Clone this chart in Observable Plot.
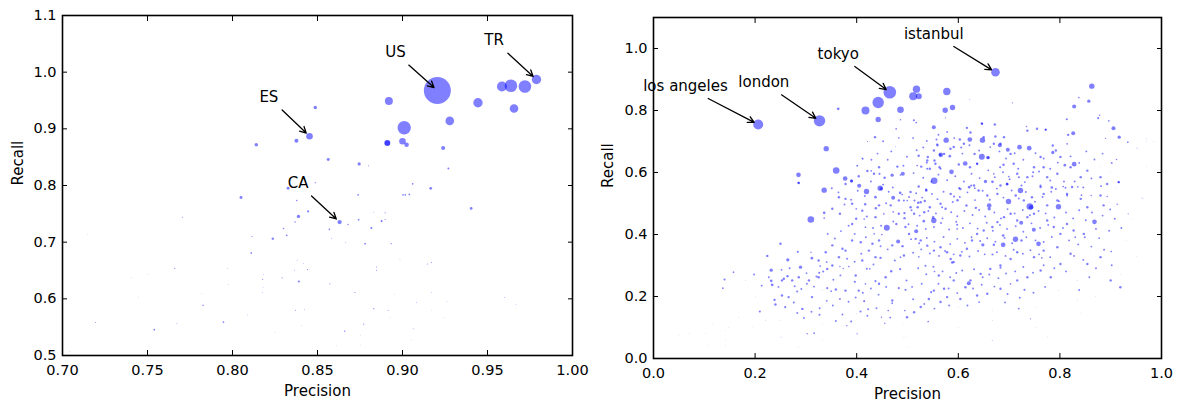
<!DOCTYPE html>
<html><head><meta charset="utf-8">
<script src="https://cdn.jsdelivr.net/npm/d3@7"></script>
<script src="https://cdn.jsdelivr.net/npm/@observablehq/plot@0.6"></script>
<style>
body{margin:0;background:#fff;}
#wrap{display:flex;width:1179px;height:406px;overflow:hidden;}
</style></head><body><div id="wrap"></div>
<script>
// ---- Left chart: countries [precision, recall, count]
const countryPts = [
[0.9205,0.9676,1000],[0.9788,0.987,121],[0.9585,0.9747,137],[0.9638,0.976,218],[0.972,0.9747,218],
[0.9656,0.936,101],[0.9444,0.946,121],[0.892,0.949,88],[0.9278,0.914,101],[0.901,0.902,246],
[0.891,0.875,49],[0.8912,0.875,40],[0.900,0.878,60],[0.9024,0.872,29],[0.9239,0.866,22],
[0.927,0.83,5.5],[0.8487,0.9376,16],[0.8453,0.887,60],[0.8376,0.879,22],[0.814,0.872,16],
[0.8563,0.846,12],[0.8745,0.838,14],[0.880,0.835,1.5],[0.906,0.803,4],[0.9166,0.795,10],
[0.8487,0.805,2],[0.8327,0.795,12],[0.805,0.779,12],[0.9003,0.7836,4],[0.9017,0.7836,4],
[0.904,0.7842,4],[0.8739,0.7836,4],[0.8378,0.7736,3],[0.9404,0.7595,10],[0.7705,0.744,1.5],
[0.8388,0.7455,16],[0.8445,0.7543,6],[0.863,0.7355,25],[0.868,0.731,3],[0.8742,0.7396,4],
[0.8877,0.7372,6],[0.8898,0.7519,2],[0.8898,0.740,2],[0.8831,0.753,1],[0.8368,0.7355,3],
[0.830,0.7243,3],[0.8319,0.712,4],[0.8237,0.7062,8],[0.857,0.7226,4],[0.8583,0.707,1],
[0.8817,0.725,6],[0.8114,0.710,2],[0.8666,0.699,1],[0.878,0.6974,4],[0.8934,0.6974,2],
[0.811,0.681,4],[0.838,0.668,1],[0.8418,0.662,1],[0.8441,0.6516,2],[0.8365,0.6505,1],
[0.766,0.6534,2],[0.797,0.6534,1],[0.8292,0.637,2],[0.8177,0.634,1.5],[0.8183,0.6428,1],
[0.839,0.6305,6],[0.8573,0.6264,1.5],[0.818,0.6205,0.7],[0.8177,0.611,1],[0.7975,0.625,0.8],
[0.872,0.611,1.5],[0.8985,0.670,0.8],[0.9146,0.6616,1.5],[0.917,0.664,1.5],[0.8847,0.6563,1.5],
[0.8847,0.6505,1.5],[0.917,0.611,1],[0.9081,0.5935,1],[0.9262,0.595,0.7],[0.8951,0.608,0.5],
[0.8831,0.5826,2],[0.8916,0.580,1.5],[0.837,0.580,1.5],[0.8423,0.5816,1],[0.7827,0.5888,3],
[0.809,0.5713,1],[0.8406,0.5525,0.7],[0.8926,0.5665,0.5],[0.9243,0.5665,0.5],[0.917,0.579,0.5],
[0.960,0.6023,1],[0.9668,0.5906,1],[0.7195,0.5584,1.5],[0.754,0.5455,4],[0.7672,0.5566,1],
[0.7947,0.559,4],[0.825,0.541,0.7],[0.8772,0.5554,2],[0.866,0.543,3],[0.8752,0.536,0.5],
[0.9063,0.5472,1],[0.905,0.527,0.5],[0.8613,0.517,0.5],[0.8752,0.5185,0.5],[0.7043,0.5064,0.5],
[0.7406,0.637,0.5],[0.7445,0.603,0.5],[0.750,0.643,0.5],[0.7148,0.714,0.5],[0.7817,0.609,0.5]
];
// annotations: label, text centre (tx,ty), arrow tail (ax,ay), point (x,y)
const countryNotes = [
{label:"US", tx:0.8959, ty:1.0361, ax:0.9037, ay:1.0125, x:0.9205, y:0.9676},
{label:"TR", tx:0.9539, ty:1.0567, ax:0.962, ay:1.0333, x:0.9788, y:0.987},
{label:"ES", tx:0.8214, ty:0.9556, ax:0.8292, ay:0.9332, x:0.8453, y:0.887},
{label:"CA", tx:0.8386, ty:0.8039, ax:0.8465, ay:0.7815, x:0.863, y:0.7355}
];
const countryXTicks = [0.70,0.75,0.80,0.85,0.90,0.95,1.00];
const countryYTicks = [0.5,0.6,0.7,0.8,0.9,1.0,1.1];

// ---- Right chart: cities [precision, recall, count]
const cityPts = [
[0.2061,0.7548,137],[0.3268,0.7667,178],[0.4652,0.859,218],[0.6732,0.9236,101],[0.4423,0.8258,178],
[0.4173,0.80,88],[0.4423,0.771,40],[0.4862,0.8022,60],[0.3636,0.8054,10],[0.34,0.677,40],
[0.2854,0.5925,30],[0.2854,0.5667,7],[0.3596,0.6065,60],[0.3773,0.5806,30],[0.3898,0.5732,15],
[0.4049,0.557,22],[0.412,0.644,4],[0.4698,0.5914,15],[0.4908,0.5957,22],[0.4777,0.741,4],
[0.4829,0.712,4],[0.4862,0.770,3],[0.4764,0.683,1],[0.4213,0.70,2],[0.5177,0.8688,75],
[0.5112,0.8462,88],[0.5223,0.8462,49],[0.5774,0.8613,75],[0.5742,0.801,40],[0.5886,0.8097,40],
[0.5125,0.7688,6],[0.5171,0.761,4],[0.5748,0.7763,2],[0.6227,0.8355,1],[0.7067,0.8248,2],
[0.8628,0.8785,40],[0.8373,0.842,4],[0.8569,0.830,15],[0.8281,0.8129,22],[0.5518,0.7462,22],
[0.6463,0.7581,8],[0.6719,0.7548,8],[0.5761,0.7043,40],[0.603,0.7065,8],[0.6227,0.7065,30],
[0.6476,0.7043,40],[0.559,0.688,8],[0.6057,0.6806,6],[0.6817,0.688,22],[0.6975,0.6731,22],
[0.7205,0.6817,30],[0.7396,0.6785,30],[0.8136,0.772,6],[0.8262,0.7269,22],[0.8163,0.7215,8],
[0.8143,0.6925,4],[0.8753,0.7753,6],[0.878,0.785,3],[0.8963,0.7667,4],[0.9055,0.743,22],
[0.9167,0.714,15],[0.9337,0.6978,4],[0.89,0.71,2],[0.9521,0.677,1],[0.97,0.71,0.5],
[0.985,0.70,0.5],[0.9114,0.6419,3],[0.8281,0.6269,30],[0.8097,0.6237,10],[0.786,0.6645,15],
[0.7723,0.7387,3],[0.7343,0.7484,3],[0.5525,0.5732,60],[0.5866,0.6022,30],[0.6136,0.629,30],
[0.6463,0.6505,49],[0.658,0.6484,15],[0.5656,0.657,30],[0.5833,0.6527,10],[0.6535,0.571,15],
[0.6673,0.570,10],[0.6962,0.5624,10],[0.7244,0.558,6],[0.7618,0.558,6],[0.7841,0.5516,10],
[0.6824,0.617,6],[0.7224,0.5419,40],[0.6988,0.5065,40],[0.7408,0.4903,60],[0.7435,0.488,30],
[0.7972,0.4893,40],[0.7579,0.370,30],[0.7126,0.3849,40],[0.6883,0.3667,30],[0.8681,0.441,30],
[0.6608,0.4935,30],[0.6608,0.4828,15],[0.6345,0.486,8],[0.6161,0.4935,8],[0.5984,0.5107,8],
[0.6214,0.5527,10],[0.5978,0.4312,6],[0.5978,0.4183,4],[0.5518,0.4452,40],[0.5505,0.455,10],
[0.5321,0.4430,10],[0.5171,0.4108,22],[0.4941,0.4527,8],[0.5138,0.5097,6],[0.4994,0.5097,4],
[0.4895,0.529,4],[0.5210,0.5022,8],[0.5368,0.5441,8],[0.7238,0.4376,22],[0.6883,0.3968,10],
[0.7244,0.3806,8],[0.7487,0.415,22],[0.8773,0.388,4],[0.901,0.3452,4],[0.6483,0.3667,15],
[0.670,0.3667,8],[0.6673,0.3355,6],[0.6207,0.243,22],[0.498,0.2516,6],[0.4961,0.2215,6],
[0.5466,0.2140,6],[0.5407,0.1194,4],[0.6667,0.059,1],[0.7303,0.2215,6],[0.7421,0.128,2],
[0.5223,0.328,4],[0.5354,0.299,6],[0.588,0.3097,8],[0.5617,0.2677,8],[0.5531,0.2806,4],
[0.6077,0.2839,6],[0.6831,0.2925,6],[0.7028,0.241,4],[0.7644,0.3247,4],[0.8301,0.3914,4],
[0.8425,0.5269,4],[0.8616,0.5258,3],[0.8931,0.5226,3],[0.9128,0.4978,3],[0.9344,0.4667,2],
[0.9632,0.517,1],[0.7979,0.5075,6],[0.8143,0.5258,6],[0.8353,0.5538,4],[0.8065,0.5549,4],
[0.9154,0.5688,6],[0.4928,0.5097,6],[0.4862,0.3268,4],[0.4948,0.1548,4],[0.336,0.543,40],
[0.3097,0.4484,60],[0.336,0.47,10],[0.336,0.453,4],[0.4193,0.5387,40],[0.4462,0.5495,40],
[0.4482,0.548,15],[0.437,0.5204,10],[0.4718,0.5183,22],[0.4856,0.5344,10],[0.4167,0.4978,8],
[0.4377,0.4849,8],[0.4593,0.4215,49],[0.4816,0.3774,22],[0.4902,0.3624,8],[0.4469,0.3247,8],
[0.4199,0.458,6],[0.4147,0.45,4],[0.3991,0.4828,4],[0.4173,0.4237,4],[0.4344,0.4022,4],
[0.4495,0.40,4],[0.475,0.3161,6],[0.4679,0.2817,8],[0.4856,0.2882,6],[0.4829,0.2269,6],
[0.437,0.2495,6],[0.4199,0.2893,6],[0.4258,0.2893,4],[0.4147,0.185,6],[0.4226,0.159,6],
[0.4075,0.1516,6],[0.4173,0.241,4],[0.3891,0.1194,6],[0.3806,0.1054,3],[0.3963,0.2473,6],
[0.3845,0.2968,4],[0.3734,0.2903,3],[0.367,0.297,3],[0.3589,0.2226,8],[0.3497,0.2172,4],
[0.342,0.2269,6],[0.334,0.2806,6],[0.3262,0.2763,6],[0.3209,0.2645,6],[0.3012,0.2753,4],
[0.2894,0.2946,15],[0.3117,0.3237,10],[0.31,0.343,3],[0.2841,0.344,6],[0.2644,0.3183,15],
[0.2566,0.2570,8],[0.2638,0.2656,8],[0.2828,0.2161,6],[0.2762,0.1806,6],[0.2592,0.1656,6],
[0.2317,0.2849,15],[0.2317,0.2505,10],[0.2336,0.2376,10],[0.2382,0.1892,8],[0.2093,0.1516,6],
[0.1575,0.2785,4],[0.1398,0.2548,6],[0.1365,0.2269,4],[0.3268,0.141,6],[0.3163,0.0817,4],
[0.3025,0.0796,3],[0.4698,0.1785,4],[0.462,0.1548,4],[0.4488,0.1333,3],[0.4553,0.1140,3],
[0.401,0.0796,2],[0.4534,0.4667,4],[0.4718,0.4731,4],[0.647,0.757,6],[0.5846,0.6764,8],
[0.5643,0.657,10],[0.565,0.612,6],[0.5388,0.612,6],[0.5531,0.6387,8],[0.538,0.632,6],
[0.519,0.6226,4],[0.4862,0.5925,4],[0.4449,0.5957,6],[0.4285,0.6054,4],[0.4108,0.6462,3],
[0.5571,0.7065,6],[0.5584,0.6915,4],[0.6594,0.6473,10],[0.689,0.6248,8],[0.7192,0.5849,6],
[0.6995,0.587,4],[0.6699,0.5957,4],[0.7474,0.601,6],[0.6372,0.628,6],[0.6254,0.558,6],
[0.6325,0.5495,4],[0.6017,0.5495,6],[0.5918,0.5226,6],[0.5682,0.488,6]
];
// small scattered cities [precision, recall]
const citySmall = [
[0.522,0.555],[0.537,0.542],[0.506,0.537],[0.526,0.504],[0.534,0.508],[0.520,0.488],[0.506,0.488],
[0.494,0.469],[0.513,0.467],[0.533,0.472],[0.544,0.488],[0.565,0.499],[0.575,0.483],[0.585,0.531],
[0.604,0.547],[0.631,0.558],[0.640,0.542],[0.657,0.526],[0.677,0.531],[0.683,0.558],[0.696,0.563],
[0.713,0.526],[0.729,0.510],[0.745,0.520],[0.762,0.553],[0.768,0.531],[0.775,0.494],[0.795,0.510],
[0.814,0.531],[0.824,0.553],[0.841,0.515],[0.854,0.488],[0.880,0.526],[0.886,0.494],[0.496,0.424],
[0.503,0.402],[0.516,0.386],[0.526,0.381],[0.539,0.364],[0.552,0.348],[0.565,0.359],[0.578,0.343],
[0.585,0.321],[0.591,0.311],[0.604,0.332],[0.617,0.354],[0.627,0.381],[0.637,0.402],[0.650,0.413],
[0.667,0.424],[0.677,0.440],[0.690,0.456],[0.703,0.467],[0.716,0.445],[0.736,0.456],[0.749,0.467],
[0.775,0.445],[0.788,0.424],[0.801,0.402],[0.814,0.434],[0.827,0.413],[0.847,0.402],[0.795,0.359],
[0.768,0.348],[0.749,0.327],[0.716,0.343],[0.703,0.321],[0.683,0.300],[0.663,0.289],[0.644,0.273],
[0.624,0.252],[0.614,0.230],[0.591,0.252],[0.572,0.225],[0.552,0.219],[0.542,0.192],[0.526,0.166],
[0.513,0.149],[0.499,0.133],[0.565,0.182],[0.578,0.198],[0.604,0.192],[0.637,0.203],[0.657,0.209],
[0.683,0.225],[0.716,0.252],[0.736,0.262],[0.762,0.284],[0.782,0.262],[0.801,0.305],[0.821,0.338],
[0.854,0.305],[0.880,0.327],[0.900,0.252],[0.919,0.230],
[0.390,0.572],[0.286,0.566],[0.367,0.467],[0.399,0.451],[0.391,0.434],[0.408,0.375],[0.378,0.348],
[0.365,0.327],[0.352,0.300],[0.342,0.289],[0.325,0.262],[0.312,0.198],[0.293,0.160],[0.266,0.198],
[0.253,0.203],[0.240,0.174],[0.378,0.219],[0.404,0.219],[0.444,0.241],[0.457,0.262],[0.470,0.187],
[0.437,0.327],[0.424,0.348],[0.411,0.316],[0.398,0.268],[0.483,0.467],[0.478,0.434],[0.470,0.365],
[0.493,0.332],[0.444,0.381],[0.431,0.370],[0.391,0.381],[0.372,0.354],[0.352,0.365],[0.339,0.343],
[0.325,0.316],[0.306,0.252],[0.286,0.262],[0.273,0.252],[0.253,0.252],[0.224,0.331],[0.250,0.370],
[0.522,0.654],[0.539,0.639],[0.527,0.619],[0.544,0.612],[0.555,0.628],[0.563,0.617],[0.601,0.626],
[0.623,0.617],[0.632,0.660],[0.637,0.628],[0.673,0.716],[0.690,0.714],[0.703,0.660],[0.709,0.628],
[0.716,0.596],[0.736,0.585],[0.749,0.617],[0.762,0.650],[0.768,0.617],[0.775,0.585],[0.801,0.650],
[0.795,0.596],[0.821,0.617],[0.841,0.585],[0.854,0.606],[0.880,0.585],[0.893,0.563],[0.916,0.569],
[0.736,0.735],[0.755,0.741],[0.772,0.738],[0.786,0.687],[0.792,0.671],[0.683,0.693],[0.670,0.693],
[0.650,0.714],[0.617,0.744],[0.624,0.729],[0.611,0.693],[0.591,0.682],[0.572,0.660],[0.552,0.671],
[0.540,0.650],[0.436,0.714],[0.421,0.605],[0.434,0.596],[0.444,0.617],[0.455,0.583],[0.480,0.619],
[0.404,0.588],[0.378,0.563],[0.483,0.510],[0.467,0.494],[0.444,0.494],[0.437,0.456],[0.411,0.477],
[0.391,0.499],[0.378,0.515],[0.365,0.520],[0.352,0.483]
];
// tiny cities filling the cloud [precision, recall]
const cityTiny = [
[0.512,0.598],[0.531,0.583],[0.547,0.571],[0.561,0.593],[0.578,0.575],[0.594,0.588],[0.611,0.571],[0.626,0.596],[0.642,0.582],[0.659,0.607],
[0.672,0.585],[0.688,0.601],[0.701,0.578],[0.718,0.612],[0.731,0.569],[0.746,0.588],[0.759,0.603],[0.781,0.574],[0.792,0.547],[0.808,0.571],
[0.503,0.521],[0.517,0.533],[0.529,0.519],[0.548,0.531],[0.559,0.514],[0.571,0.538],[0.589,0.505],[0.603,0.521],[0.618,0.536],[0.633,0.511],
[0.648,0.541],[0.662,0.512],[0.676,0.548],[0.689,0.519],[0.705,0.542],[0.719,0.516],[0.733,0.537],[0.751,0.506],[0.766,0.521],[0.783,0.538],
[0.508,0.478],[0.524,0.461],[0.541,0.476],[0.556,0.468],[0.569,0.452],[0.586,0.472],[0.598,0.459],[0.612,0.476],[0.628,0.463],[0.641,0.479],
[0.653,0.458],[0.671,0.471],[0.684,0.452],[0.697,0.482],[0.711,0.468],[0.727,0.479],[0.741,0.462],[0.758,0.476],[0.772,0.468],[0.789,0.455],
[0.502,0.433],[0.519,0.428],[0.536,0.418],[0.552,0.424],[0.566,0.437],[0.582,0.416],[0.596,0.441],[0.609,0.421],[0.623,0.436],[0.638,0.419],
[0.656,0.438],[0.668,0.412],[0.682,0.431],[0.696,0.418],[0.713,0.427],[0.728,0.409],[0.744,0.436],[0.761,0.421],[0.777,0.431],[0.806,0.421],
[0.507,0.385],[0.523,0.372],[0.538,0.389],[0.553,0.377],[0.571,0.392],[0.584,0.369],[0.598,0.386],[0.613,0.373],[0.626,0.391],[0.643,0.379],
[0.657,0.388],[0.673,0.377],[0.691,0.389],[0.706,0.372],[0.734,0.391],[0.752,0.381],[0.768,0.376],[0.784,0.392],
[0.511,0.341],[0.527,0.352],[0.544,0.339],[0.562,0.331],[0.574,0.347],[0.591,0.336],[0.607,0.344],[0.622,0.329],[0.639,0.347],[0.652,0.336],
[0.676,0.343],[0.693,0.331],[0.709,0.351],[0.727,0.338],[0.742,0.349],[0.759,0.336],[0.781,0.327],
[0.452,0.561],[0.463,0.538],[0.471,0.552],[0.428,0.571],[0.416,0.524],[0.402,0.541],[0.389,0.512],[0.376,0.497],[0.364,0.536],[0.351,0.549],
[0.458,0.501],[0.472,0.442],[0.448,0.428],[0.432,0.421],[0.418,0.391],[0.396,0.402],[0.384,0.428],[0.369,0.411],[0.357,0.387],[0.343,0.402],
[0.461,0.352],[0.447,0.362],[0.433,0.303],[0.409,0.338],[0.396,0.312],[0.381,0.322],[0.368,0.268],[0.354,0.254],[0.341,0.311],[0.328,0.298],
[0.316,0.232],[0.302,0.241],[0.291,0.224],[0.278,0.233],[0.268,0.291],[0.252,0.286],[0.246,0.231],[0.227,0.262],[0.213,0.235],[0.198,0.271],
[0.458,0.231],[0.443,0.206],[0.428,0.226],[0.412,0.212],[0.398,0.197],[0.384,0.183],[0.367,0.192],[0.353,0.171],[0.341,0.186],[0.327,0.162],
[0.311,0.151],[0.296,0.131],[0.283,0.147],[0.466,0.132],[0.439,0.162],[0.421,0.138],[0.372,0.142],[0.359,0.121],
[0.521,0.291],[0.537,0.272],[0.551,0.296],[0.569,0.281],[0.584,0.262],[0.596,0.276],[0.631,0.288],[0.648,0.262],[0.661,0.271],[0.679,0.259],
[0.694,0.274],[0.712,0.281],[0.728,0.295],[0.747,0.277],[0.768,0.301],[0.789,0.291],[0.812,0.281],
[0.509,0.231],[0.528,0.241],[0.561,0.241],[0.581,0.226],[0.598,0.211],[0.629,0.226],[0.646,0.238],[0.671,0.232],[0.697,0.208],[0.721,0.196],
[0.748,0.212],[0.771,0.231],[0.511,0.191],[0.533,0.176],[0.553,0.161],[0.582,0.171],[0.618,0.171],[0.641,0.182],[0.692,0.181],[0.719,0.161],
[0.812,0.471],[0.826,0.452],[0.838,0.478],[0.851,0.446],[0.863,0.471],[0.871,0.418],[0.884,0.461],[0.897,0.412],[0.818,0.381],[0.836,0.368],
[0.849,0.391],[0.862,0.361],[0.828,0.331],[0.846,0.318],[0.871,0.291],[0.811,0.551],[0.829,0.571],[0.846,0.552],[0.862,0.581],[0.881,0.556],
[0.899,0.481],[0.908,0.451],[0.921,0.421],[0.887,0.351],[0.902,0.301],[0.858,0.262],[0.838,0.221],[0.821,0.652],[0.838,0.631],[0.852,0.668],
[0.868,0.642],[0.884,0.661],[0.902,0.631],[0.796,0.632],[0.781,0.612],[0.768,0.645],[0.752,0.662],[0.728,0.641],[0.711,0.662],[0.694,0.645],
[0.681,0.668],[0.663,0.682],[0.641,0.671],[0.622,0.688],[0.608,0.661],[0.592,0.711],[0.578,0.731],[0.561,0.722],[0.538,0.702],[0.531,0.681],
[0.518,0.672],[0.511,0.711],[0.499,0.651],[0.492,0.622],[0.468,0.668],[0.461,0.641],[0.452,0.701],[0.441,0.661],[0.429,0.641],[0.401,0.622]
];
// barely visible cities [precision, recall]
const cityFaint = [
[0.499,0.069],[0.499,0.037],[0.601,0.166],[0.601,0.101],[0.667,0.155],[0.667,0.123],[0.752,0.166],
[0.752,0.101],[0.798,0.219],[0.834,0.252],[0.834,0.187],[0.775,0.069],[0.181,0.252],[0.201,0.198],
[0.168,0.133],[0.148,0.101],[0.116,0.112],[0.102,0.080],[0.070,0.080],[0.050,0.076],[0.142,0.042],
[0.109,0.042],[0.194,0.101],[0.221,0.123],[0.253,0.069],[0.286,0.037],[0.332,0.219],[0.332,0.166],
[0.332,0.112],[0.332,0.058],[0.250,0.123],[0.250,0.069],[0.400,0.144],[0.400,0.080],[0.493,0.112],
[0.493,0.069],[0.142,0.090],[0.142,0.058],[0.95,0.68],[0.97,0.62],[0.96,0.52],[0.94,0.45],
[0.93,0.38],[0.92,0.27],[0.95,0.33],[0.97,0.70],[0.90,0.60],[0.91,0.55],[0.88,0.62],[0.89,0.44],
[0.86,0.35],[0.87,0.20],[0.84,0.15]
];
const cityNotes = [
{label:"los angeles", tx:0.063, ty:0.877, ax:0.1077, ay:0.8387, x:0.2061, y:0.7548},
{label:"london", tx:0.2172, ty:0.8913, ax:0.252, ay:0.8506, x:0.3268, y:0.7667},
{label:"tokyo", tx:0.3636, ty:0.9829, ax:0.3963, ay:0.942, x:0.4652, y:0.859},
{label:"istanbul", tx:0.5518, ty:1.0452, ax:0.5911, ay:1.0065, x:0.6732, y:0.9236}
];
const smallCount = 8, tinyCount = 5, faintCount = 0.4;
const cityXTicks = [0.0,0.2,0.4,0.6,0.8,1.0];
const cityYTicks = [0.0,0.2,0.4,0.6,0.8,1.0];

const cityAll = cityPts
  .concat(citySmall.map(d => [d[0], d[1], smallCount]))
  .concat(cityTiny.map(d => [d[0], d[1], tinyCount]))
  .concat(cityFaint.map(d => [d[0], d[1], faintCount]));

function chart({pts, notes, xDomain, yDomain, xTicks, yTicks, xFmt, yFmt, width, mL, mR, mT, mB, labDx}) {
  return Plot.plot({
    width, height: 406,
    marginLeft: mL, marginRight: mR, marginTop: mT, marginBottom: mB,
    style: {fontFamily: "DejaVu Sans", fontSize: "14.5px", background: "white", color: "black", overflow: "visible"},
    x: {domain: xDomain},
    y: {domain: yDomain},
    r: {type: "sqrt", domain: [0, 1000], range: [0, 13.5]},
    marks: [
      Plot.dot(pts, {x: d => d[0], y: d => d[1], r: d => d[2], fill: "#0000ff", fillOpacity: 0.5, stroke: null, clip: true}),
      Plot.arrow(notes, {x1: "ax", y1: "ay", x2: "x", y2: "y", insetEnd: 4.5, stroke: "black", strokeWidth: 1.3, headLength: 8, headAngle: 55}),
      Plot.text(notes, {x: "tx", y: "ty", text: "label", fontSize: 15, fill: "black"}),
      Plot.axisX(xTicks, {anchor: "bottom", tickSize: -5, tickPadding: 14, tickFormat: xFmt, fontSize: 14.5, label: null, stroke: "black"}),
      Plot.axisX(xTicks, {anchor: "top", tickSize: -5, tickFormat: () => "", label: null}),
      Plot.axisY(yTicks, {anchor: "left", tickSize: -5, tickPadding: 11, tickFormat: yFmt, fontSize: 14.5, label: null}),
      Plot.axisY(yTicks, {anchor: "right", tickSize: -5, tickFormat: () => "", label: null}),
      Plot.frame({stroke: "black", strokeWidth: 1.6}),
      Plot.text(["Precision"], {frameAnchor: "bottom", lineAnchor: "middle", dy: 36, fontSize: 15, fill: "black"}),
      Plot.text(["Recall"], {frameAnchor: "left", lineAnchor: "middle", dx: labDx, rotate: -90, fontSize: 15, fill: "black"})
    ]
  });
}

const wrap = document.getElementById("wrap");
wrap.append(chart({pts: countryPts, notes: countryNotes, xDomain: [0.7, 1.0], yDomain: [0.5, 1.1],
  xTicks: countryXTicks, yTicks: countryYTicks, xFmt: d3.format(".2f"), yFmt: d3.format(".1f"),
  width: 590, mL: 62, mR: 18, mT: 15, mB: 51, labDx: -44}));
wrap.append(chart({pts: cityAll, notes: cityNotes, xDomain: [0, 1.0], yDomain: [0, 1.1],
  xTicks: cityXTicks, yTicks: cityYTicks, xFmt: d3.format(".1f"), yFmt: d3.format(".1f"),
  width: 589, mL: 63, mR: 18, mT: 17, mB: 48, labDx: -45}));
</script></body></html>
